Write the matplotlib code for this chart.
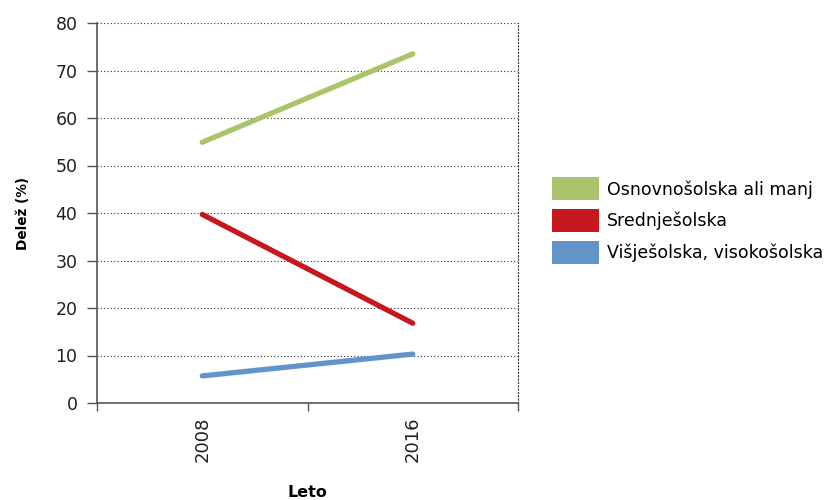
import matplotlib
matplotlib.use("Agg")
import matplotlib.pyplot as plt
from matplotlib.patches import Patch

years = ["2008", "2016"]
series_names = ["Osnovnošolska ali manj", "Srednješolska", "Višješolska, visokošolska"]
osnovno = [54.9, 73.5]
srednje = [39.7, 16.8]
visje = [5.7, 10.3]
colors = ["#abc46b", "#c6161e", "#6294ca"]
yticks = [0, 10, 20, 30, 40, 50, 60, 70, 80]

plt.rcParams['font.family'] = ['DejaVu Sans']

fig = plt.figure(figsize=(8.29, 5.0), dpi=100)
ax = fig.add_axes([97/829, 97/500, (518-97)/829, (403-23)/500])

xpos = [i + 0.5 for i in range(len(years))]
for vals, c in zip([osnovno, srednje, visje], colors):
    ax.plot(xpos, vals, color=c, lw=3.8, solid_capstyle='round', zorder=3)

ax.set_xlim(0, len(years))
ax.set_ylim(0, 80)
ax.set_yticks(yticks)
ax.set_yticklabels([str(v) for v in yticks], fontsize=12.5, color="#231f20")
ax.set_xticks(range(len(years) + 1))
ax.set_xticklabels([])
ax.set_xticks(xpos, minor=True)
ax.set_xticklabels(years, minor=True, rotation=90, fontsize=13, color="#231f20")
ax.tick_params(axis='x', which='minor', length=0, pad=10)
ax.tick_params(axis='x', which='major', length=6, width=1, color="#555555", direction='out')
ax.tick_params(axis='y', length=7, width=1, color="#555555", direction='out', pad=7)

ax.grid(axis='y', linestyle=(0, (1, 2)), color="#333333", lw=0.8)
ax.spines['top'].set_visible(False)
ax.spines['right'].set_linestyle((0, (1, 2)))
ax.spines['right'].set_color("#333333")
ax.spines['right'].set_linewidth(0.8)
ax.spines['left'].set_color("#555555")
ax.spines['bottom'].set_color("#555555")
ax.spines['left'].set_linewidth(1.2)
ax.spines['bottom'].set_linewidth(1.2)

ax.set_ylabel("Delež (%)", fontsize=9.8, fontweight='bold', labelpad=18)
ax.set_xlabel("Leto", fontsize=11.5, fontweight='bold', labelpad=16)

handles = [Patch(facecolor=c, edgecolor='none') for c in colors]
fig.legend(handles, series_names, loc='upper left', bbox_to_anchor=(549/829, 1 - 174/500),
           frameon=False, fontsize=12.5, handlelength=2.7, handleheight=1.66,
           handletextpad=0.45, labelspacing=0.5, borderpad=0.2, borderaxespad=0)

fig.savefig("out.png", dpi=100)
